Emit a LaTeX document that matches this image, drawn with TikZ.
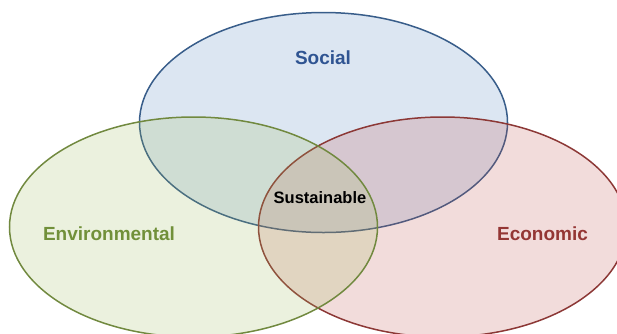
\documentclass[tikz,border=0pt]{standalone}
\usepackage{fontspec}
\setmainfont{Liberation Sans}
\usepackage{xcolor}
\usepackage{tikz}
\usetikzlibrary{shapes.geometric,positioning}
\definecolor{socblue}{HTML}{4F81BD}
\definecolor{socline}{HTML}{385D8A}
\definecolor{socink}{HTML}{2F5492}
\definecolor{envgreen}{HTML}{9BBB59}
\definecolor{envline}{HTML}{71893F}
\definecolor{envink}{HTML}{71903A}
\definecolor{ecored}{HTML}{C0504D}
\definecolor{ecoline}{HTML}{8C3836}
\definecolor{ecoink}{HTML}{943634}
\tikzset{
  circle3/.style={
    ellipse, line width=1.5pt, inner sep=0pt,
    minimum width=368pt, minimum height=220pt, fill opacity=0.2
  },
  pillar/.style={font=\fontsize{19}{21}\selectfont\bfseries},
}

\begin{document}
\begin{tikzpicture}[x=1pt,y=-1pt]
  \useasboundingbox (0,0) rectangle (617,333);
  \clip (0,0) rectangle (617,333);

  % the three pillars, green on top
  \node[circle3, draw=socline, fill=socblue] (soc) at (323.5,122.5) {};
  \node[circle3, draw=ecoline, fill=ecored] (eco) at (442.5,227) {};
  \node[circle3, draw=envline, fill=envgreen] (env) at (193.5,227) {};

  \node[pillar, text=socink] (soclabel) at (323,58) {Social};
  \node[pillar, text=envink] (envlabel) at (109,234) {Environmental};
  \node[pillar, text=ecoink] (ecolabel) at (542.5,234) {Economic};
  \node[font=\fontsize{16.5}{18}\selectfont\bfseries] (sus) at (320,198) {Sustainable};
\end{tikzpicture}
\end{document}
